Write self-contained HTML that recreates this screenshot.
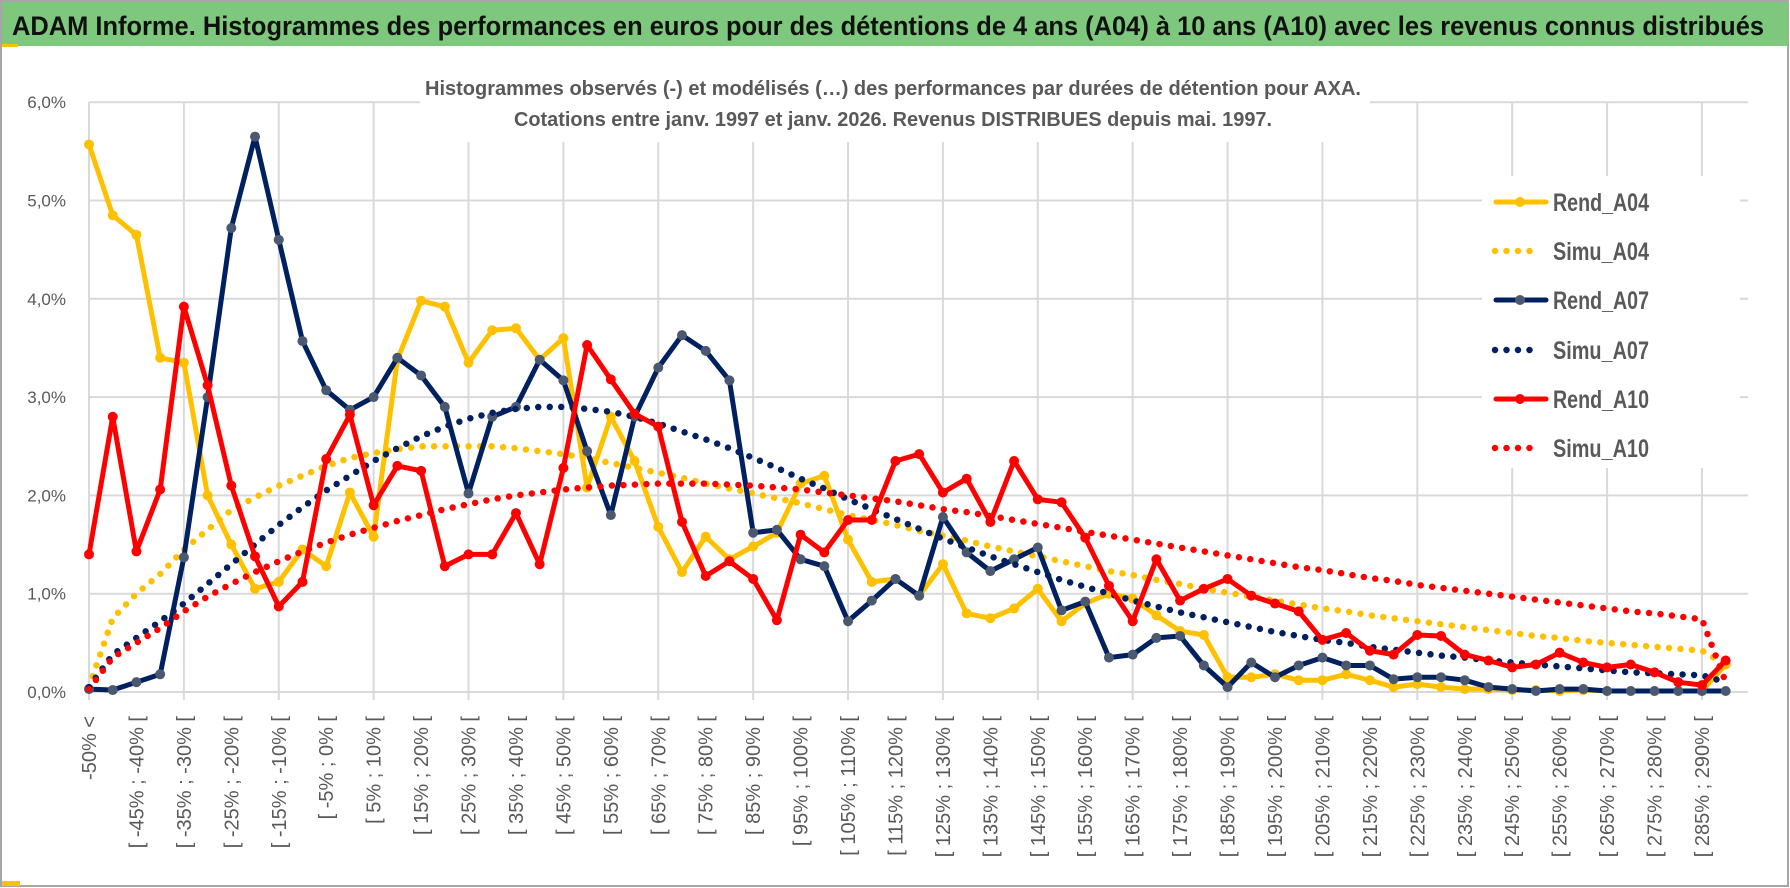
<!DOCTYPE html>
<html><head><meta charset="utf-8">
<style>
html,body{margin:0;padding:0;background:#fff;}
svg{display:block;font-family:"Liberation Sans",sans-serif;}
</style></head>
<body>
<svg id="chart" width="1790" height="888" viewBox="0 0 1790 888" xmlns="http://www.w3.org/2000/svg">
  <rect x="1" y="1" width="1787" height="885" fill="#fff" stroke="#a6a6a6" stroke-width="2"/>
  <rect x="2" y="2" width="1786" height="44" fill="#7dc87c"/>
  <rect x="2" y="44" width="16" height="3" fill="#ffc000"/>
  <rect x="2" y="881" width="18" height="5" fill="#ffc000"/>
  <text x="12" y="35" font-size="27" font-weight="bold" fill="#111" textLength="1752" lengthAdjust="spacingAndGlyphs">ADAM Informe. Histogrammes des performances en euros pour des détentions de 4 ans (A04) à 10 ans (A10) avec les revenus connus distribués</text>
  <g id="grid"></g>
  <g id="yaxis"></g>
  <g id="xaxis"></g>
  <rect x="420" y="62" width="950" height="80" fill="#fff"/>
  <text x="893" y="95" text-anchor="middle" font-size="20" font-weight="bold" fill="#595959" textLength="936" lengthAdjust="spacingAndGlyphs">Histogrammes observés (-) et modélisés (…) des performances par durées de détention pour AXA.</text>
  <text x="893" y="126" text-anchor="middle" font-size="20" font-weight="bold" fill="#595959" textLength="758" lengthAdjust="spacingAndGlyphs">Cotations entre janv. 1997 et janv. 2026. Revenus DISTRIBUES depuis mai. 1997.</text>
  <g id="series"></g>
  <g id="legend"></g>
</svg>
<script>
const categories = [];
categories.push("-50% <");
for (let i = 0; i < 69; i++) { const lo = -50 + 5 * i; categories.push("[ " + lo + "% ; " + (lo + 5) + "% ["); }
const yTicks = [0, 1, 2, 3, 4, 5, 6];
const yTickLabels = ["0,0%", "1,0%", "2,0%", "3,0%", "4,0%", "5,0%", "6,0%"];
const rendA04 = [5.57,4.85,4.65,3.40,3.35,2.00,1.50,1.05,1.12,1.45,1.28,2.03,1.58,3.38,3.98,3.92,3.35,3.68,3.70,3.38,3.60,2.08,2.80,2.35,1.68,1.22,1.58,1.35,1.48,1.62,2.12,2.20,1.55,1.12,1.15,0.98,1.30,0.80,0.75,0.85,1.05,0.72,0.90,1.00,0.95,0.78,0.62,0.58,0.15,0.15,0.18,0.12,0.12,0.18,0.12,0.05,0.08,0.05,0.03,0.03,0.02,0.02,0.01,0.02,0.01,0.01,0.01,0.01,0.01,0.28];
const simuA04 = [0.05,0.75,1.0,1.2,1.45,1.65,1.85,1.98,2.1,2.2,2.3,2.38,2.43,2.47,2.5,2.5,2.5,2.5,2.48,2.45,2.42,2.38,2.33,2.28,2.23,2.18,2.12,2.07,2.02,1.97,1.92,1.86,1.8,1.75,1.7,1.64,1.59,1.54,1.48,1.43,1.38,1.33,1.28,1.23,1.19,1.14,1.1,1.05,1.01,0.97,0.93,0.89,0.85,0.82,0.78,0.75,0.72,0.69,0.66,0.63,0.6,0.57,0.55,0.52,0.5,0.48,0.46,0.44,0.42,0.28];
const rendA07 = [0.03,0.02,0.10,0.18,1.37,3.00,4.72,5.65,4.60,3.57,3.07,2.87,3.00,3.40,3.22,2.90,2.02,2.80,2.90,3.38,3.17,2.45,1.80,2.80,3.30,3.63,3.47,3.17,1.62,1.65,1.35,1.28,0.72,0.93,1.15,0.98,1.78,1.42,1.23,1.35,1.47,0.83,0.92,0.35,0.38,0.55,0.57,0.27,0.05,0.30,0.15,0.27,0.35,0.27,0.27,0.13,0.15,0.15,0.12,0.05,0.03,0.01,0.03,0.03,0.01,0.01,0.01,0.01,0.01,0.01];
const simuA07 = [0.05,0.38,0.55,0.72,0.9,1.1,1.3,1.5,1.7,1.88,2.05,2.2,2.35,2.48,2.6,2.7,2.78,2.84,2.88,2.9,2.9,2.88,2.85,2.8,2.73,2.65,2.57,2.48,2.38,2.28,2.17,2.07,1.96,1.86,1.76,1.66,1.56,1.47,1.38,1.3,1.22,1.14,1.07,1.0,0.93,0.87,0.81,0.76,0.71,0.66,0.61,0.57,0.53,0.5,0.46,0.43,0.4,0.37,0.35,0.32,0.3,0.28,0.26,0.24,0.22,0.2,0.19,0.18,0.17,0.1];
const rendA10 = [1.40,2.80,1.43,2.06,3.92,3.12,2.10,1.38,0.87,1.12,2.37,2.82,1.90,2.30,2.25,1.28,1.40,1.40,1.82,1.30,2.28,3.53,3.18,2.83,2.70,1.73,1.18,1.33,1.15,0.73,1.60,1.42,1.75,1.75,2.35,2.42,2.03,2.17,1.73,2.35,1.96,1.93,1.57,1.08,0.72,1.35,0.93,1.05,1.15,0.98,0.90,0.82,0.53,0.60,0.42,0.38,0.58,0.57,0.38,0.32,0.25,0.28,0.40,0.30,0.25,0.28,0.20,0.10,0.07,0.32];
const simuA10 = [0.03,0.35,0.5,0.65,0.82,0.97,1.1,1.22,1.33,1.43,1.52,1.6,1.67,1.74,1.8,1.86,1.91,1.96,2.0,2.03,2.06,2.08,2.1,2.11,2.12,2.12,2.12,2.11,2.1,2.08,2.06,2.03,2.0,1.97,1.94,1.9,1.86,1.83,1.79,1.75,1.71,1.67,1.63,1.59,1.55,1.51,1.47,1.43,1.39,1.35,1.31,1.27,1.24,1.2,1.16,1.13,1.09,1.06,1.03,1.0,0.97,0.94,0.91,0.88,0.85,0.82,0.8,0.77,0.74,0.1];
const seriesNames = ["Rend_A04","Simu_A04","Rend_A07","Simu_A07","Rend_A10","Simu_A10"];

const NS = "http://www.w3.org/2000/svg";
const X0 = 89, XSTEP = 23.72, Y0 = 692, YUNIT = 98.3, XRIGHT = 1748;
function xPos(i) { return X0 + i * XSTEP; }
function yPos(v) { return Y0 - v * YUNIT; }
function mk(tag, attrs, parent) { const e = document.createElementNS(NS, tag); for (const k in attrs) e.setAttribute(k, attrs[k]); parent.appendChild(e); return e; }

const grid = document.getElementById("grid");
yTicks.forEach((t) => {
  const l = mk("line", {x1: X0, x2: XRIGHT, y1: yPos(t), y2: yPos(t), stroke: "#d9d9d9", "stroke-width": 2}, grid);
  
  
});
for (let i = 0; i < categories.length; i += 4) {
  const l = mk("line", {x1: xPos(i), x2: xPos(i), y1: yPos(6), y2: Y0 + 8, stroke: "#d9d9d9", "stroke-width": 2}, grid);
  
  
}
const yaxis = document.getElementById("yaxis");
yTicks.forEach((t, k) => {
  const tx = mk("text", {x: 66, y: yPos(t) + 6, "text-anchor": "end", "font-size": 17, fill: "#595959"}, yaxis);
  tx.textContent = yTickLabels[k];
  
  
});
const xaxis = document.getElementById("xaxis");
categories.forEach((c, i) => {
  if (i % 2 !== 0) return;
  const x = xPos(i) + 7, y = 716;
  const tx = mk("text", {x: x, y: y, "text-anchor": "end", "font-size": 20, fill: "#595959", transform: "rotate(-90 " + x + " " + y + ")"}, xaxis);
  tx.textContent = c;
  
  
});

const seriesG = document.getElementById("series");
const defs = [
  {data: rendA04, color: "#ffc000", dotted: false, marker: "#ffc000", name: "rend-a04-line"},
  {data: simuA04, color: "#ffc000", dotted: true, name: "simu-a04-line"},
  {data: rendA07, color: "#002060", dotted: false, marker: "#4a5870", name: "rend-a07-line"},
  {data: simuA07, color: "#002060", dotted: true, name: "simu-a07-line"},
  {data: rendA10, color: "#ff0000", dotted: false, marker: "#ff0000", name: "rend-a10-line"},
  {data: simuA10, color: "#ff0000", dotted: true, name: "simu-a10-line"}
];
defs.forEach((d) => {
  const pts = d.data.map((v, i) => xPos(i).toFixed(1) + "," + yPos(v).toFixed(1)).join(" ");
  const attrs = {points: pts, fill: "none", stroke: d.color, "stroke-linejoin": "round"};
  if (d.dotted) { attrs["stroke-width"] = 6.5; attrs["stroke-dasharray"] = "0 11.5"; attrs["stroke-linecap"] = "round"; }
  else { attrs["stroke-width"] = 5; }
  const pl = mk("polyline", attrs, seriesG);
  
  
  if (!d.dotted) {
    d.data.forEach((v, i) => {
      const c = mk("circle", {cx: xPos(i), cy: yPos(v), r: 5, fill: d.marker}, seriesG);
      
      
    });
  }
});

const legend = document.getElementById("legend");
const lb = mk("rect", {x: 1482, y: 176, width: 258, height: 292, fill: "#fff"}, legend);


const legendRows = [202, 251, 300, 350, 399, 448];
seriesNames.forEach((n, k) => {
  const d = defs[k], y = legendRows[k];
  if (d.dotted) {
    const l = mk("line", {x1: 1495, x2: 1540, y1: y, y2: y, stroke: d.color, "stroke-width": 6.5, "stroke-dasharray": "0 11.5", "stroke-linecap": "round"}, legend);
    
    
  } else {
    const l = mk("line", {x1: 1496, x2: 1546, y1: y, y2: y, stroke: d.color, "stroke-width": 5, "stroke-linecap": "round"}, legend);
    
    
    const c = mk("circle", {cx: 1520, cy: y, r: 5, fill: d.marker}, legend);
    
    
  }
  const t = mk("text", {x: 1553, y: y + 9, "font-size": 25, "font-weight": "bold", fill: "#595959", textLength: 96, lengthAdjust: "spacingAndGlyphs"}, legend);
  t.textContent = n;
  
  
});
</script>
</body></html>
